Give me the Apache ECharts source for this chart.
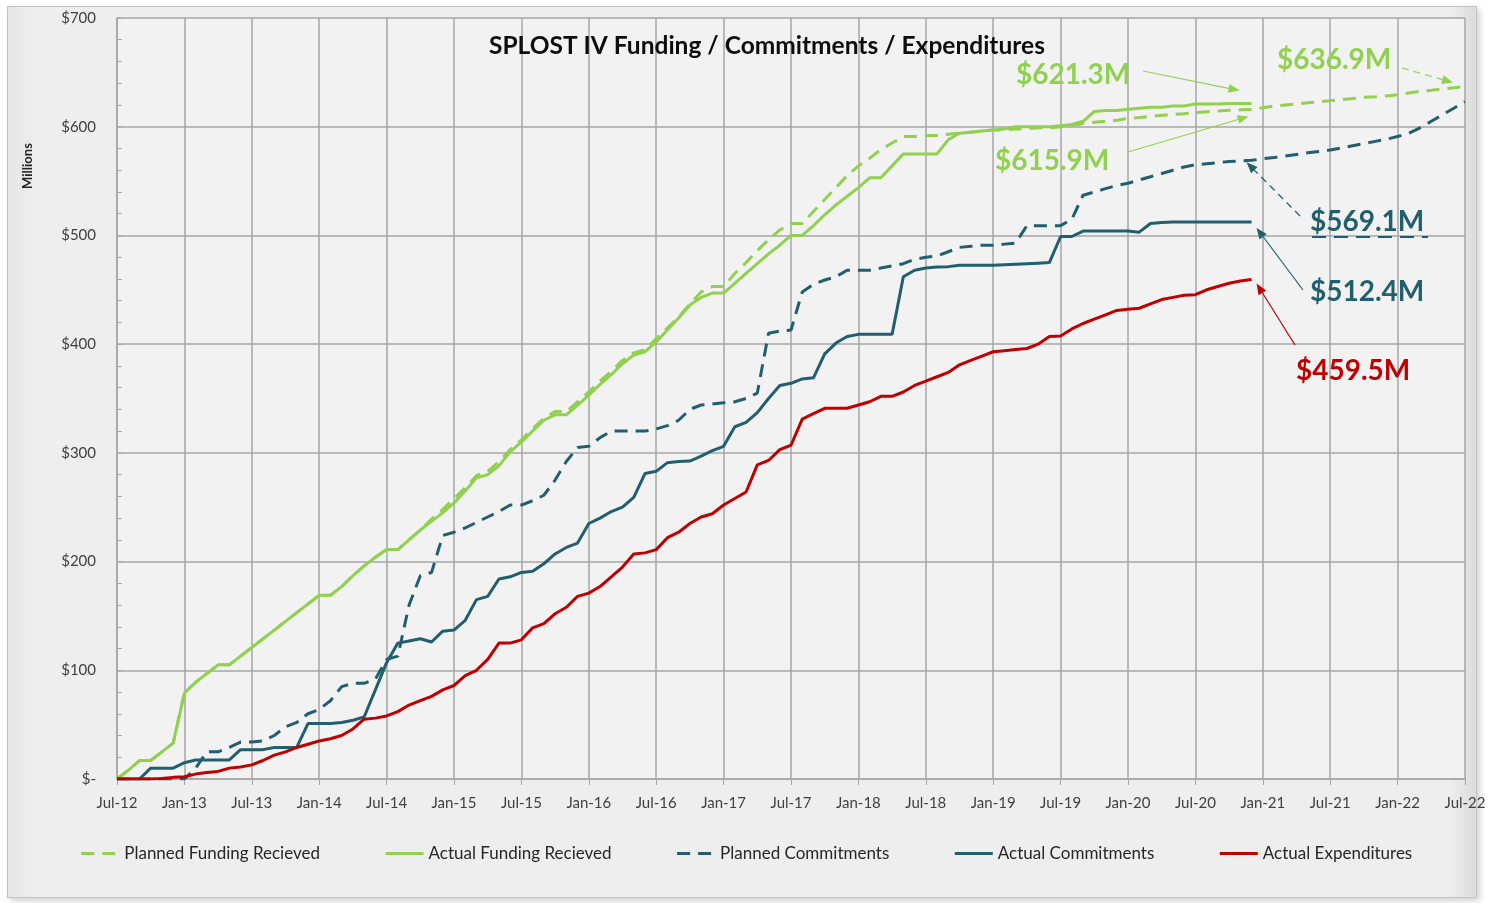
<!DOCTYPE html>
<html>
<head>
<meta charset="utf-8">
<title>SPLOST IV Funding / Commitments / Expenditures</title>
<script src="https://cdn.jsdelivr.net/npm/echarts@6.0.0/dist/echarts.min.js"></script>
<style>
    html, body { margin: 0; padding: 0; background: #ffffff; }
    #wrap { position: relative; width: 1492px; height: 903px; overflow: hidden; }
    #panel {
        position: absolute; left: 7px; top: 6px; width: 1468px; height: 890px;
        background: linear-gradient(90deg, #e6e6e6 0px, #eeeeee 30px, #eeeeee 1440px, #dcdcdc 1468px);
        border: 1px solid #c4c4c4;
        box-shadow: 3px 3px 6px rgba(0,0,0,0.18);
    }
    #chart { position: absolute; left: 0; top: 0; width: 1492px; height: 903px; }
</style>
</head>
<body>
<div id="wrap">
    <div id="panel"></div>
    <div id="chart"></div>
</div>
<script>
// Mois de Jul-12 à Jul-22 (121 points mensuels)
var monthNames = ['Jan', 'Feb', 'Mar', 'Apr', 'May', 'Jun', 'Jul', 'Aug', 'Sep', 'Oct', 'Nov', 'Dec'];
var categories = [];
for (var m = 0; m <= 120; m++) {
    var k = 6 + m;
    categories.push(monthNames[k % 12] + '-' + (12 + Math.floor(k / 12)));
}

var yTicks = [0, 100, 200, 300, 400, 500, 600, 700];

// Planned Funding Recieved ($M), Jul-12 .. Jul-22
var plannedFunding = [
    0, 8, 17, 17, 25, 33, 79, 89, 97, 105,
    105, 113, 121, 129, 137, 145, 153, 161, 169, 169,
    177, 187, 196, 204, 211, 211, 220, 229, 239, 248,
    258, 268, 279, 283, 292, 303, 312, 322, 332, 338,
    338, 347, 356, 366, 375, 385, 392, 395, 405, 415,
    425, 437, 448, 453, 453, 465, 475, 486, 496, 505,
    511, 511, 522, 533, 544, 555, 564, 571, 579, 585,
    591, 591, 592, 592, 593, 594, 595, 596, 597, 597,
    598, 598, 599, 599, 600, 601, 603, 604, 605, 606,
    607.6, 608.5, 609.5, 610.5, 611.2, 612, 613, 613.8, 614.5, 615.2,
    615.5, 615.9, 617.5, 619, 620, 621, 622, 623, 624, 625,
    626, 627, 627.5, 628.3, 629.5, 631, 632.5, 633.5, 634.7, 635.8,
    636.9
];

// Actual Funding Recieved ($M), Jul-12 .. Dec-20
var actualFunding = [
    0, 8, 17, 17, 25, 33, 79, 89, 97, 105,
    105, 113, 121, 129, 137, 145, 153, 161, 169, 169,
    177, 187, 196, 204, 211, 211, 220, 229, 237, 245,
    254, 265, 277, 280, 288, 301, 310, 320, 330, 335,
    335, 344, 353, 363, 372, 382, 390, 393, 402, 413,
    424, 436, 443, 447, 447, 456, 465, 474, 483, 491,
    500, 500, 509, 519, 528, 536, 544, 553, 553, 564,
    575, 575, 575, 575, 588, 594, 595, 596, 597, 598,
    600, 600, 600, 600, 601, 602, 605, 614, 615, 615,
    616, 617, 618, 618, 619, 619, 621, 621, 621, 621.3,
    621.3, 621.3
];

// Planned Commitments ($M), Jul-12 .. Jul-22
var plannedCommitments = [
    0, 0, 0, 0, 0, 0, 0, 10, 25, 25,
    29, 34, 34, 35, 40, 48, 52, 60, 64, 72,
    85, 88, 88, 92, 110, 113, 160, 187, 190, 224,
    227, 231, 236, 241, 246, 252, 252, 256, 261, 275,
    292, 305, 306, 314, 320, 320, 320, 320, 322, 325,
    330, 340, 344, 345, 346, 347, 350, 355, 410, 412,
    413, 448, 455, 459, 462, 468, 468, 468, 470, 472,
    474, 478, 480, 481, 485, 489, 490, 491, 491, 492,
    493, 509, 509, 509, 509, 515, 537, 540, 543, 546,
    548, 551, 554, 557, 560, 563, 565, 566, 567, 568,
    568.5, 569.1, 570.5, 571.6, 573, 574.5, 576, 577.3, 578.6, 580.5,
    582.5, 584.5, 586.5, 588.5, 591, 594, 599, 605, 611, 617,
    623
];

// Actual Commitments ($M), Jul-12 .. Dec-20
var actualCommitments = [
    0, 0, 0, 10, 10, 10, 15, 17.5, 17.5, 17.5,
    17.5, 27, 27, 27, 29, 29, 29, 51, 51, 51,
    52, 54, 57, 82, 107, 125, 127, 129, 126, 136,
    137, 146, 165, 168, 184, 186, 190, 191, 198, 207,
    213, 217, 235, 240, 246, 250, 259, 281, 283, 291,
    292, 292.5, 297, 302, 306, 324, 328, 337, 350, 362,
    364, 368, 369, 391, 401, 407, 409, 409, 409, 409,
    462, 468, 470, 471, 471.3, 472.5, 472.5, 472.5, 472.5, 473,
    473.5, 474, 474.5, 475, 499, 499, 504, 504, 504, 504,
    504, 503, 511, 512, 512.4, 512.4, 512.4, 512.4, 512.4, 512.4,
    512.4, 512.4
];

// Actual Expenditures ($M), Jul-12 .. Dec-20
var actualExpenditures = [
    0, 0, 0, 0, 0.5, 1.5, 2, 4.5, 6, 7,
    10, 11, 13, 17, 22, 25, 29, 32, 35, 37,
    40, 46, 55, 56, 58, 62, 68, 72, 76, 82,
    86, 95, 100, 110, 125, 125, 128, 139, 143, 152,
    158, 168, 171, 177, 186, 195, 207, 208, 211, 222,
    227, 235, 241, 244, 252, 258, 264, 289, 293, 303,
    307, 331, 336, 341, 341, 341, 344, 347, 352, 352,
    356, 362, 366, 370, 374, 381, 385, 389, 393, 394,
    395, 396, 400, 407, 407.5, 414, 419, 423, 427, 431,
    432, 433, 437, 441, 443, 445, 445.5, 450, 453, 456,
    458, 459.5
];

var GREEN = '#92D050';
var TEAL = '#215E6E';
var RED = '#C00000';
var FONT = 'Lato, "Open Sans", sans-serif';

var chartDom = document.getElementById('chart');
var myChart = echarts.init(chartDom, null, { renderer: 'canvas' });

function lineSeries(name, data, color, dashed) {
    return {
        name: name,
        type: 'line',
        data: data,
        symbol: 'none',
        smooth: false,
        lineStyle: { color: color, width: 3, type: dashed ? [13, 8] : 'solid', cap: 'butt' },
        itemStyle: { color: color },
        emphasis: { disabled: true }
    };
}

var option = {
    animation: false,
    textStyle: { fontFamily: FONT },
    title: {
        text: 'SPLOST IV Funding / Commitments / Expenditures',
        left: 484,
        top: 29,
        textStyle: { fontFamily: FONT, fontSize: 24.5, fontWeight: 'bold', color: '#0d0d0d' }
    },
    legend: {
        bottom: 36,
        left: 'center',
        itemWidth: 38,
        itemHeight: 14,
        itemGap: 64,
        itemStyle: { opacity: 0 },
        lineStyle: { width: 3 },
        textStyle: { fontFamily: FONT, fontSize: 17, color: '#262626' },
        data: ['Planned Funding Recieved', 'Actual Funding Recieved', 'Planned Commitments', 'Actual Commitments', 'Actual Expenditures']
    },
    grid: {
        left: 117,
        right: 27,
        top: 18,
        bottom: 124,
        show: true,
        backgroundColor: '#f2f2f2',
        borderWidth: 0
    },
    xAxis: {
        type: 'category',
        data: categories,
        boundaryGap: false,
        axisLine: { lineStyle: { color: '#a6a6a6', width: 1.5 } },
        axisTick: { interval: 5, length: 6, lineStyle: { color: '#a6a6a6' } },
        axisLabel: { interval: 5, margin: 17, fontSize: 15, color: '#404040', fontFamily: FONT },
        splitLine: { show: true, interval: 5, lineStyle: { color: '#a6a6a6', width: 1.5 } }
    },
    yAxis: {
        type: 'value',
        min: yTicks[0],
        max: yTicks[yTicks.length - 1],
        interval: 100,
        axisLine: { show: true, lineStyle: { color: '#a6a6a6', width: 1.5 } },
        axisTick: { show: true, inside: true, length: 5, lineStyle: { color: '#a6a6a6' } },
        minorTick: { show: true, splitNumber: 5, length: 5, lineStyle: { color: '#a6a6a6' } },
        axisLabel: {
            margin: 21,
            fontSize: 15,
            color: '#404040',
            fontFamily: FONT,
            formatter: function (value) {
                return value === 0 ? '$-' : '$' + value;
            }
        },
        splitLine: { show: true, lineStyle: { color: '#a6a6a6', width: 1.5 } }
    },
    series: [
        lineSeries('Planned Funding Recieved', plannedFunding, GREEN, true),
        lineSeries('Actual Funding Recieved', actualFunding, GREEN, false),
        lineSeries('Planned Commitments', plannedCommitments, TEAL, true),
        lineSeries('Actual Commitments', actualCommitments, TEAL, false),
        lineSeries('Actual Expenditures', actualExpenditures, RED, false)
    ]
};

myChart.setOption(option);

// Flèche (ligne + pointe) de (x1,y1) vers (x2,y2)
function arrow(x1, y1, x2, y2, color, dashed) {
    var ang = Math.atan2(y2 - y1, x2 - x1);
    var len = 11, half = 4.5;
    var bx = x2 - len * Math.cos(ang), by = y2 - len * Math.sin(ang);
    var px = -Math.sin(ang) * half, py = Math.cos(ang) * half;
    return [
        {
            type: 'line',
            silent: true,
            shape: { x1: x1, y1: y1, x2: bx, y2: by },
            style: { stroke: color, lineWidth: 1.2, lineDash: dashed ? [7, 5] : null }
        },
        {
            type: 'polygon',
            silent: true,
            shape: { points: [[x2, y2], [bx + px, by + py], [bx - px, by - py]] },
            style: { fill: color }
        }
    ];
}

function label(text, x, y, color) {
    return {
        type: 'text',
        silent: true,
        x: x,
        y: y,
        style: {
            text: text,
            fill: color,
            font: 'bold 28px ' + FONT,
            textAlign: 'left',
            textVerticalAlign: 'middle'
        }
    };
}

// Points terminaux calculés depuis les axes
function endPoint(seriesIndex, data) {
    var i = data.length - 1;
    return myChart.convertToPixel({ seriesIndex: seriesIndex }, [i, data[i]]);
}

var pAF = endPoint(1, actualFunding);
var pPF101 = myChart.convertToPixel({ seriesIndex: 0 }, [101, plannedFunding[101]]);
var pPF = endPoint(0, plannedFunding);
var pPC101 = myChart.convertToPixel({ seriesIndex: 2 }, [101, plannedCommitments[101]]);
var pAC = endPoint(3, actualCommitments);
var pAE = endPoint(4, actualExpenditures);

var graphics = [];
graphics.push({
    type: 'text',
    silent: true,
    x: 28,
    y: 166,
    rotation: Math.PI / 2,
    style: { text: 'Millions', fill: '#262626', font: 'bold 13px ' + FONT, textAlign: 'center', textVerticalAlign: 'middle' }
});

graphics.push(label('$621.3M', 1016, 75, GREEN));
graphics = graphics.concat(arrow(1143, 71, pAF[0] - 12, pAF[1] - 13, GREEN, false));

graphics.push(label('$615.9M', 995, 161, GREEN));
graphics = graphics.concat(arrow(1128, 152, pPF101[0] - 3, pPF101[1] + 7, GREEN, false));

graphics.push(label('$636.9M', 1277, 60, GREEN));
graphics = graphics.concat(arrow(1402, 68, pPF[0] - 12, pPF[1] - 4, GREEN, true));

graphics.push(label('$569.1M', 1310, 222, TEAL));
graphics.push({
    type: 'line',
    silent: true,
    shape: { x1: 1312, y1: 237, x2: 1428, y2: 237 },
    style: { stroke: TEAL, lineWidth: 2, lineDash: [14, 8] }
});
graphics = graphics.concat(arrow(1300, 216, pPC101[0] - 5, pPC101[1] + 2, TEAL, true));

graphics.push(label('$512.4M', 1310, 292, TEAL));
graphics = graphics.concat(arrow(1303, 290, pAC[0] + 5, pAC[1] + 6, TEAL, false));

graphics.push(label('$459.5M', 1296, 371, RED));
graphics = graphics.concat(arrow(1295, 345, pAE[0] + 5, pAE[1] + 4, RED, false));

myChart.setOption({ graphic: graphics });
</script>
</body>
</html>
